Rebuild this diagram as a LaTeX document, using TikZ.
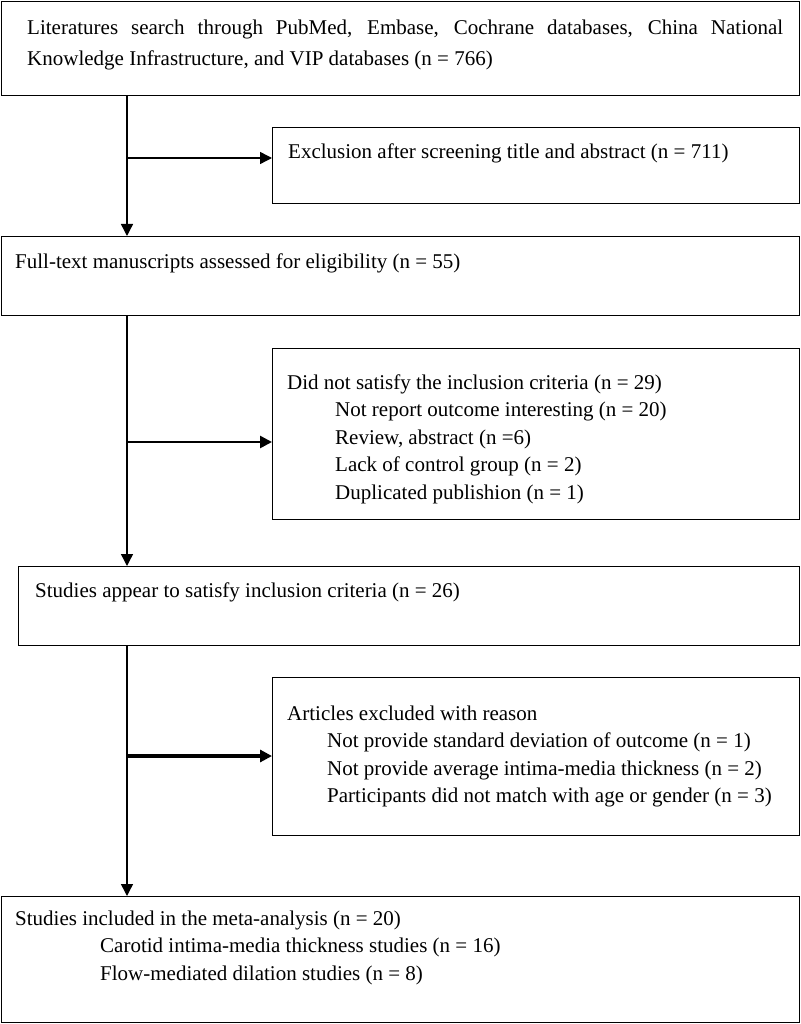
\documentclass[tikz,border=0pt]{standalone}
\usepackage{fontspec}
\setmainfont{Liberation Serif}
\usetikzlibrary{arrows.meta}
\begin{document}
\begin{tikzpicture}[x=1pt,y=-1pt,
  box/.style={draw, line width=1.3pt, inner sep=0pt, anchor=north west},
  txt/.style={anchor=base west, inner sep=0pt, font=\fontsize{21}{25}\selectfont},
  conn/.style={line width=1.4pt},
  arr/.style={-{Triangle[length=12pt,width=12pt]}}]
\useasboundingbox (0,0) rectangle (800,1024);
% boxes
\node[box, minimum width=798pt, minimum height=94pt] (b1) at (1,1) {};
\node[box, minimum width=527pt, minimum height=76pt] (b2) at (272,127) {};
\node[box, minimum width=798pt, minimum height=79pt] (b3) at (1,236) {};
\node[box, minimum width=527pt, minimum height=171pt] (b4) at (272,348) {};
\node[box, minimum width=781pt, minimum height=79pt] (b5) at (18,566) {};
\node[box, minimum width=527pt, minimum height=158pt] (b6) at (272,677) {};
\node[box, minimum width=798pt, minimum height=126pt] (b7) at (1,896) {};
% texts
\node[txt] (t1a) at (27,35) {\makebox[756pt][s]{Literatures search through PubMed, Embase, Cochrane databases, China National}};
\node[txt] (t1b) at (27,66) {Knowledge Infrastructure, and VIP databases (n = 766)};
\node[txt] (t2) at (288,159) {Exclusion after screening title and abstract (n = 711)};
\node[txt] (t3) at (15,268) {Full-text manuscripts assessed for eligibility (n = 55)};
\node[txt] (t4a) at (287,389) {Did not satisfy the inclusion criteria (n = 29)};
\node[txt] (t4b) at (335,416.5) {Not report outcome interesting (n = 20)};
\node[txt] (t4c) at (335,444) {Review, abstract (n =6)};
\node[txt] (t4d) at (335,471.5) {Lack of control group (n = 2)};
\node[txt] (t4e) at (335,499) {Duplicated publishion (n = 1)};
\node[txt] (t5) at (35,597) {Studies appear to satisfy inclusion criteria (n = 26)};
\node[txt] (t6a) at (287,720) {Articles excluded with reason};
\node[txt] (t6b) at (327,747.5) {Not provide standard deviation of outcome (n = 1)};
\node[txt] (t6c) at (327,775) {Not provide average intima-media thickness (n = 2)};
\node[txt] (t6d) at (327,802.5) {Participants did not match with age or gender (n = 3)};
\node[txt] (t7a) at (15,925) {Studies included in the meta-analysis (n = 20)};
\node[txt] (t7b) at (100,952.5) {Carotid intima-media thickness studies (n = 16)};
\node[txt] (t7c) at (100,980) {Flow-mediated dilation studies (n = 8)};
% connectors
\coordinate (v) at (127,0);
\draw[conn,arr] (b1.south -| v) -- (b3.north -| v);
\coordinate (j1) at (127,158);
\draw[conn,arr] (j1) -- (j1 -| b2.west);
\draw[conn,arr] (b3.south -| v) -- (b5.north -| v);
\coordinate (j2) at (127,442);
\draw[line width=2.6pt,arr] (j2) -- (j2 -| b4.west);
\draw[conn,arr] (b5.south -| v) -- (b7.north -| v);
\coordinate (j3) at (127,756);
\draw[line width=4pt,arr] (j3) -- (j3 -| b6.west);
\end{tikzpicture}
\end{document}
